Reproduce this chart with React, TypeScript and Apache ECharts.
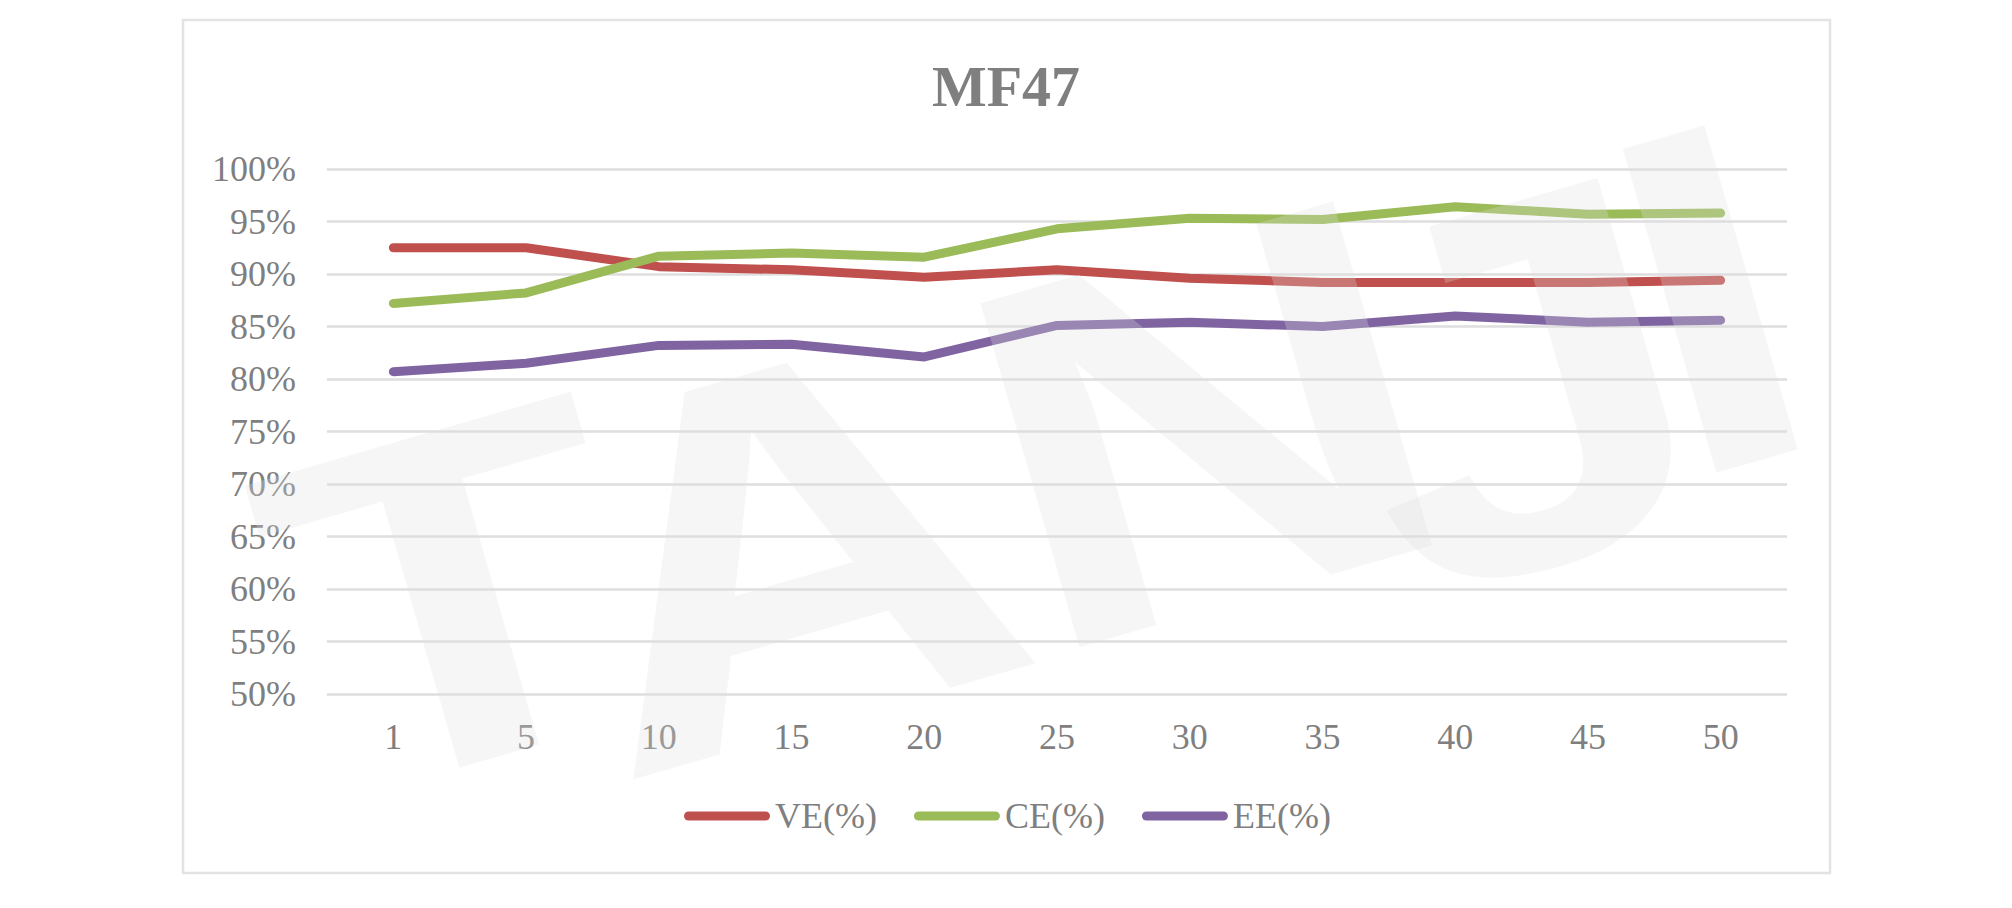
import React, { useEffect, useRef } from "react";
import * as echarts from "echarts";

const categories = ["1", "5", "10", "15", "20", "25", "30", "35", "40", "45", "50"];
const veValues = [92.5, 92.5, 90.7, 90.4, 89.7, 90.4, 89.6, 89.2, 89.2, 89.2, 89.4];
const ceValues = [87.2, 88.2, 91.7, 92.0, 91.6, 94.3, 95.3, 95.2, 96.4, 95.7, 95.8];
const eeValues = [80.7, 81.5, 83.2, 83.3, 82.1, 85.1, 85.4, 85.0, 86.0, 85.4, 85.6];
const seriesNames = ["VE(%)", "CE(%)", "EE(%)"];
const seriesColors = ["#C0504D", "#9BBB59", "#8064A2"];
const titleText = "MF47";
const watermarkLetters = ["T", "A", "N", "J", "I"];

const FONT = "'Liberation Serif', 'Times New Roman', serif";
const LABEL_COLOR = "#7f7f7f";

// decorative watermark letter placement (centre x, centre y, font size) – not data
const watermarkPos = [
  [453, 596, 480],
  [785, 548, 520],
  [1206, 423, 520],
  [1521, 385, 520],
  [1710, 298, 490],
];

export default function App() {
  const ref = useRef<HTMLDivElement>(null);

  useEffect(() => {
    if (!ref.current) return;
    const chart = echarts.init(ref.current, null, { renderer: "svg" });
    const values = [veValues, ceValues, eeValues];
    const option: any = {
      animation: false,
      backgroundColor: "#ffffff",
      title: {
        text: titleText,
        left: "center",
        top: 57,
        padding: 0,
        textStyle: {
          fontFamily: FONT,
          fontSize: 58,
          fontWeight: "bold",
          color: LABEL_COLOR,
        },
      },
      grid: {
        left: 327,
        right: 225,
        top: 169,
        bottom: 214,
        containLabel: false,
      },
      legend: {
        data: seriesNames,
        left: 684,
        top: 798,
        padding: 0,
        itemGap: 37,
        itemWidth: 86,
        itemHeight: 9,
        icon: "path://M4.5,0 L81.5,0 A4.5,4.5 0 0 1 81.5,9 L4.5,9 A4.5,4.5 0 0 1 4.5,0 Z",
        textStyle: {
          fontFamily: FONT,
          fontSize: 36,
          color: LABEL_COLOR,
        },
      },
      xAxis: {
        type: "category",
        data: categories,
        boundaryGap: true,
        axisLine: { show: false },
        axisTick: { show: false },
        axisLabel: {
          margin: 25,
          fontFamily: FONT,
          fontSize: 36,
          color: LABEL_COLOR,
        },
        splitLine: { show: false },
      },
      yAxis: {
        type: "value",
        min: 50,
        max: 100,
        interval: 5,
        axisLine: { show: false },
        axisTick: { show: false },
        axisLabel: {
          margin: 31,
          fontFamily: FONT,
          fontSize: 36,
          color: LABEL_COLOR,
          formatter: "{value}%",
        },
        splitLine: { lineStyle: { color: "#dedede", width: 2.5 } },
      },
      series: seriesNames.map((name, i) => ({
        name,
        type: "line",
        data: values[i],
        symbol: "none",
        color: seriesColors[i],
        lineStyle: { width: 9, color: seriesColors[i], cap: "round", join: "round" },
      })),
      graphic: [
        {
          type: "rect",
          shape: { x: 183, y: 20, width: 1647, height: 853 },
          style: { fill: "none", stroke: "#e3e3e3", lineWidth: 2.5 },
          silent: true,
          z: -10,
        },
        ...watermarkLetters.map((ch, i) => ({
          type: "text",
          x: watermarkPos[i][0],
          y: watermarkPos[i][1],
          rotation: 0.281,
          scaleX: 1.2,
          silent: true,
          z: 100,
          style: {
            text: ch,
            font: `bold ${watermarkPos[i][2]}px 'Liberation Sans', Arial, sans-serif`,
            fill: "rgba(222,222,222,0.28)",
            align: "center",
            verticalAlign: "middle",
          },
        })),
      ],
    };
    chart.setOption(option);
    return () => chart.dispose();
  }, []);

  return (
    <div
      ref={ref}
      style={{ position: "fixed", left: 0, top: 0, width: 2012, height: 908 }}
    />
  );
}
